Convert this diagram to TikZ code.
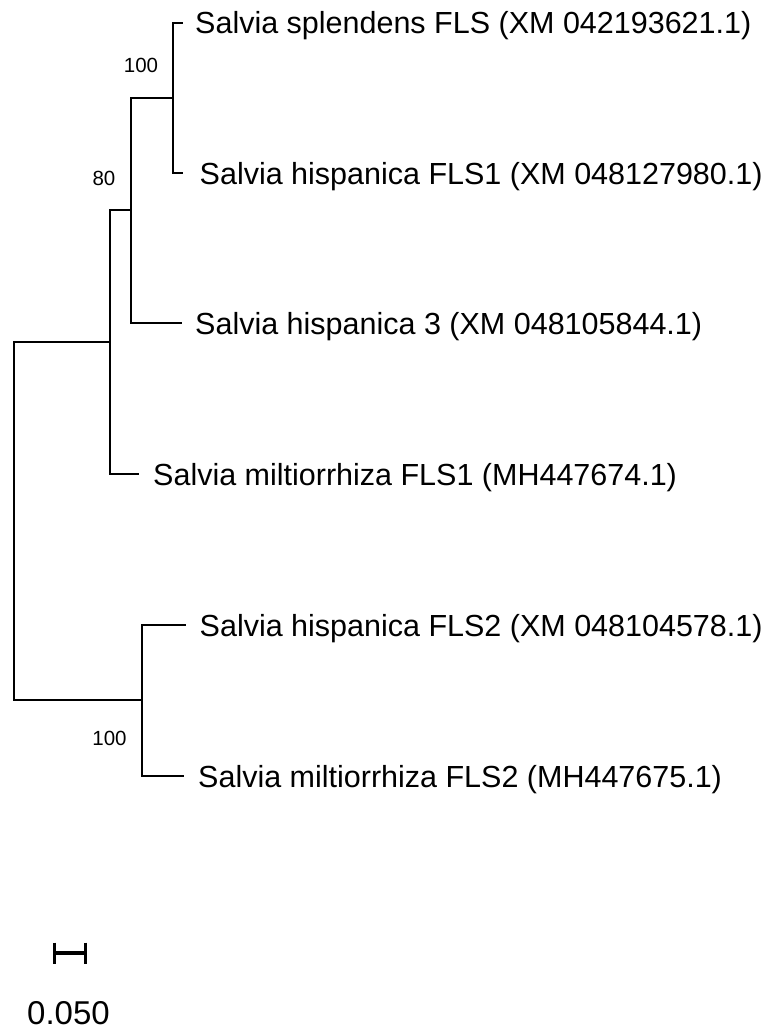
\documentclass[tikz,border=0pt]{standalone}
\usepackage{fontspec}
\setmainfont{Liberation Sans}
\usetikzlibrary{positioning}

\newcommand{\taxfont}{\fontsize{30.5}{36}\selectfont}
\newcommand{\bootfont}{\fontsize{20.5}{24}\selectfont}
\newcommand{\scalefont}{\fontsize{33}{40}\selectfont}

\begin{document}
\begin{tikzpicture}[x=1pt,y=-1pt,
    branch/.style={line width=1.8pt,line cap=rect},
    taxon/.style={anchor=base west,inner sep=0pt,font=\taxfont},
    boot/.style={anchor=base,inner sep=0pt,font=\bootfont}]
       \useasboundingbox (0,0) rectangle (768,1030);
       % Internal nodes of the tree
       \coordinate (root) at (14,521);
       \coordinate (n_c) at (110,342);
       \coordinate (n_b) at (131,210);
       \coordinate (n_a) at (173,98);
       \coordinate (n_d) at (142,700);
       % Tips of the branches
       \coordinate (t_1) at (182,23);
       \coordinate (t_2) at (182,173);
       \coordinate (t_3) at (181,323);
       \coordinate (t_4) at (138,474);
       \coordinate (t_5) at (185,625);
       \coordinate (t_6) at (183,776);
       % Draw the branches
       \draw[branch] (root) |- (n_c);
       \draw[branch] (root) |- (n_d);
       \draw[branch] (n_c) |- (n_b);
       \draw[branch] (n_c) |- (t_4);
       \draw[branch] (n_b) |- (n_a);
       \draw[branch] (n_b) |- (t_3);
       \draw[branch] (n_a) |- (t_1);
       \draw[branch] (n_a) |- (t_2);
       \draw[branch] (n_d) |- (t_5);
       \draw[branch] (n_d) |- (t_6);
       % Taxon names
       \node[taxon] (l_1) at (195,34) {Salvia splendens FLS (XM 042193621.1)};
       \node[taxon] (l_2) at (199.5,184) {Salvia hispanica FLS1 (XM 048127980.1)};
       \node[taxon] (l_3) at (195,334) {Salvia hispanica 3 (XM 048105844.1)};
       \node[taxon] (l_4) at (153,485) {Salvia miltiorrhiza FLS1 (MH447674.1)};
       \node[taxon] (l_5) at (199.5,636) {Salvia hispanica FLS2 (XM 048104578.1)};
       \node[taxon] (l_6) at (198,787) {Salvia miltiorrhiza FLS2 (MH447675.1)};
       % Bootstrap values
       \node[boot] (b_a) at (141,73) {100};
       \node[boot] (b_b) at (104,185) {80};
       \node[boot] (b_d) at (109.5,745) {100};
       % Scale bar
       \coordinate (s_1) at (54,953);
       \coordinate (s_2) at (85,953);
       \draw[line width=3.5pt] (s_1) -- (s_2);
       \draw[line width=3pt] ([yshift=10.5pt]s_1) -- ([yshift=-10.5pt]s_1);
       \draw[line width=3pt] ([yshift=10.5pt]s_2) -- ([yshift=-10.5pt]s_2);
       \node[anchor=base,inner sep=0pt,font=\scalefont] (scale) at (68.5,1024) {0.050};
   \end{tikzpicture}
\end{document}
